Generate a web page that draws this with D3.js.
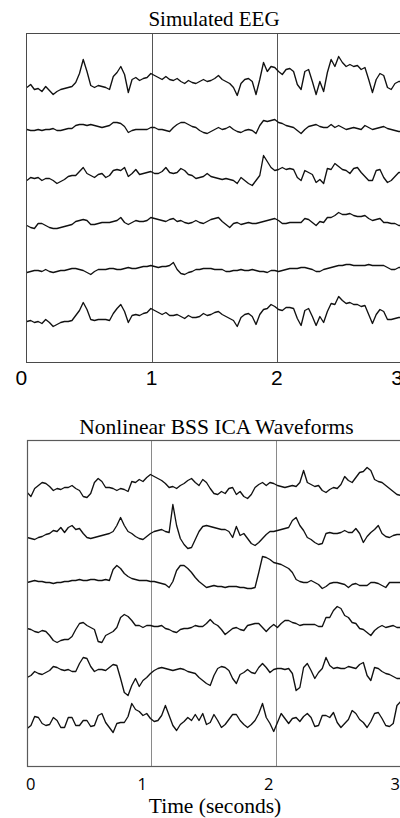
<!DOCTYPE html>
<html>
<head>
<meta charset="utf-8">
<script src="https://cdn.jsdelivr.net/npm/d3@7"></script>
<style>
  html, body { margin: 0; padding: 0; background: #fff; }
  svg { display: block; }
</style>
</head>
<body>
<svg id="chart" width="400" height="818"></svg>
<script>
// Sampling interval of every trace, in seconds (t = 0 … 3 s)
const SAMPLE_STEP = 0.03;
const TIME_TICKS = [0, 1, 2, 3];
const TICK_LABELS = ["0", "1", "2", "3"];

// Simulated EEG channels (amplitude around each channel baseline)
const eegCh1 = [-5,-2,-7,-6,-9,-4,-8,-12,-9,-7, -6,-5,-4,0,9,23,11,-3,-5,-3, -4,-5,-7,6,10,16,8,-10,3,5,
  2,4,5,9,7,5,3,6,3,2, 4,1,-1,2,0,-1,1,3,1,2, 4,7,3,1,-1,-5,-13,-1,3,4, 1,-12,3,20,11,16,15,11,8,13,
  14,11,-2,-7,11,13,1,-12,1,-9, 10,23,16,26,20,16,18,16,17,13, 15,3,-10,3,9,7,-5,-7,-1,1,1];
const eegCh2 = [-1,-2,-2,-1,-2,-1,-1,0,-2,-2, -1,0,0,3,4,4,3,4,3,2, 1,2,3,6,6,5,2,-4,-2,-1,
  -1,-1,-1,1,1,-1,-1,-2,-3,1, 4,6,6,4,2,1,-2,-4,-5,-3, -1,1,-1,0,2,-1,-3,-4,-2,-1, -2,-5,3,8,7,8,9,6,5,3,
  2,1,-2,-5,-1,2,3,4,2,1, 1,4,1,3,1,-1,0,1,0,-1, 3,1,-1,0,1,2,0,-1,-2,-3,-3];
const eegCh3 = [-5,-2,-3,-2,-5,-3,-3,-5,-8,-6, -4,-1,0,0,4,8,2,0,-2,1, 2,-2,0,5,6,5,8,-1,2,6,
  1,2,3,4,2,2,4,8,3,2, 3,7,5,1,0,-3,-2,-1,2,-1, -2,-3,-4,-3,-4,-5,-8,-2,-5,-8, -10,-5,0,20,14,8,5,6,8,6,
  7,6,-2,-5,5,3,1,-7,-4,-8, 7,6,12,9,6,5,2,7,8,3, -1,-5,-5,5,6,-2,-7,-5,-1,3,3];
const eegCh4 = [-3,-5,-6,-1,-1,-3,-5,-6,-6,-5, -4,-3,-2,1,2,3,2,-2,-2,-1, 0,0,0,1,2,5,0,-2,0,2,
  1,1,2,5,4,3,2,1,3,4, 1,2,0,-1,0,2,0,-1,1,3, 4,5,1,-2,-5,-1,0,-2,-1,0, -1,-1,0,1,2,3,4,2,-1,-1,
  0,0,0,0,4,3,0,-3,1,0, 5,5,7,10,8,8,9,7,6,6, 7,4,2,3,4,0,0,-1,-1,-3,-3];
const eegCh5 = [-4,-3,-2,-2,-3,-1,-3,-4,-3,-2, -2,-1,0,0,-1,-2,-4,-6,-3,-1, -1,-1,0,0,-1,-1,0,1,0,0,
  1,2,2,3,2,1,2,2,3,6, -1,-5,-6,-4,-3,-1,-1,0,0,0, -1,-1,-1,-3,-3,-2,-2,-1,-2,-2, -1,-2,-3,-3,-4,-2,-2,-3,-2,-1,
  0,0,0,1,1,0,-1,-3,-3,-1, 0,1,2,3,3,4,4,3,3,3, 3,4,3,3,3,3,1,-1,-1,1,1];
const eegCh6 = [-5,-4,-6,-5,-7,-3,-6,-10,-8,-6, -5,-5,-4,1,6,14,7,-3,-4,-3, -3,-3,-4,3,8,12,5,-6,1,2,
  1,3,4,8,6,4,2,4,1,1, 2,0,-2,1,-1,-1,0,3,1,2, 4,5,2,0,-2,-4,-10,-1,2,3, 0,-8,2,7,8,12,10,7,6,9,
  9,8,-2,-9,6,8,0,-9,0,-6, 5,13,12,20,16,13,14,12,12,10, 11,2,-7,2,7,5,-3,-3,-2,-1,-1];

// Separated source waveforms
const icaCh1 = [-6,-10,-2,1,4,3,0,-4,-2,-3, -1,-1,1,-2,-4,-10,-11,-7,4,8, 5,-1,-1,-2,-4,-2,-3,-5,5,4,
  7,5,9,12,10,8,6,3,-1,0, -2,1,3,6,8,4,1,7,4,-2, -7,-8,-5,-7,-2,-1,-8,-5,-10,-12, -8,-1,2,4,1,4,3,1,0,-1,
  0,1,0,4,16,4,2,0,1,-4, -6,-3,-1,-2,2,10,6,4,9,14, 15,19,16,7,5,4,1,-2,-5,-8,-9];
const icaCh2 = [-4,-5,-6,-4,-3,-1,0,3,2,6, 1,6,8,4,5,0,-4,-5,-4,-3, -2,-1,0,2,8,16,8,2,0,-3,
  -5,-6,-3,0,2,3,4,2,1,29, 8,-5,-11,-15,-14,-6,2,7,8,7, 6,5,4,4,2,-4,7,-2,0,-5, -10,-12,-9,-5,-1,2,2,3,4,5,
  6,13,16,8,3,-4,-6,-9,-11,-10, 0,1,0,0,1,3,1,1,5,0, -9,-3,1,4,8,0,-3,-4,-2,-1,-1];
const icaCh3 = [-2,-1,0,-1,-1,-2,-2,-3,-2,-2, -1,-1,0,0,1,0,0,1,1,0, 0,1,0,11,15,12,7,4,2,1,
  0,0,0,-1,-1,-2,-3,-4,-7,-1, 10,15,15,12,8,3,-1,-4,-7,-6, -5,-6,-6,-7,-6,-6,-6,-7,-7,-8, -8,-7,8,24,23,21,18,17,16,14,
  12,8,1,-1,-2,-2,0,-2,-4,-8, -6,-3,-2,-2,-3,-4,-7,-4,-3,-5, -5,-5,-2,-2,-3,-5,-7,-2,-2,-2,-2];
const icaCh4 = [0,-1,-3,-4,-2,-3,-7,-12,-14,-12, -11,-11,-8,-1,5,6,3,1,-1,-13, -14,-7,-5,-3,1,11,14,12,8,3,
  3,1,3,3,2,2,3,0,-1,-3, -4,-1,0,0,1,3,2,2,5,9, 5,3,-1,-6,-3,0,1,-1,-2,3, 4,5,5,1,-3,1,4,1,5,8,
  8,6,5,3,4,4,4,4,2,2, 11,11,18,22,20,13,11,6,5,0, -1,-4,-7,-2,1,3,1,2,3,1,1];
const icaCh5 = [-5,-3,1,-1,-2,0,2,6,5,3, 2,3,1,1,9,15,14,6,1,3, 3,2,5,8,7,-6,-20,-23,-13,-6,
  -14,-8,-5,-1,2,4,5,4,3,2, 3,4,3,1,0,-1,-5,-8,-11,-13, -3,4,6,5,2,-6,-11,-2,0,3, 0,-1,5,9,5,0,3,4,4,3,
  4,-1,-18,-15,5,9,2,-6,0,4, 15,7,4,5,4,4,6,5,4,8, 10,-3,-8,5,4,1,-1,-2,-4,-6,-6];
const icaCh6 = [-9,-6,3,2,-4,-6,-5,2,-1,-8, -8,2,2,-6,-6,-1,-1,-7,-6,4, 6,-3,-8,-13,-4,-3,-3,3,16,10,
  8,4,6,1,-2,-1,4,14,4,-6, -11,-5,-2,2,-1,5,-1,6,-5,-3, 5,-1,-8,-5,0,5,5,-1,-5,-8, -5,-1,6,16,2,-4,-12,-3,6,1,
  -4,1,2,-2,3,6,2,-7,-6,4, 4,2,7,-3,-8,-4,0,9,6,0, -3,-8,-2,6,7,1,-6,-7,-4,14,18];

// Channel baselines, in the same amplitude units, measured up from the bottom of each panel
const eegOffsets = [280, 234, 187, 140, 94, 46];
const icaOffsets = [280, 233, 186, 138, 94, 47];

const svg = d3.select("#chart");

const panels = [
  {
    title: "Simulated EEG", titleX: 214, titleY: 26, titleSize: 21,
    channels: [eegCh1, eegCh2, eegCh3, eegCh4, eegCh5, eegCh6], offsets: eegOffsets,
    xRange: [26.9, 402.5], top: 33.5, bottom: 362.5,
    frameColor: "#4a4a4a", frameWidth: 1, gridColor: "#555",
    tickFont: "'Liberation Sans', Arial, sans-serif", tickSize: 21, tickBaseline: 385,
    labelNudge: [-6, -1, -1, -6]
  },
  {
    title: "Nonlinear BSS ICA Waveforms", titleX: 216.5, titleY: 434, titleSize: 21.5,
    channels: [icaCh1, icaCh2, icaCh3, icaCh4, icaCh5, icaCh6], offsets: icaOffsets,
    xRange: [27.2, 400.7], top: 440.5, bottom: 766.5,
    frameColor: "#5a5a5a", frameWidth: 1.2, gridColor: "#8a8a8a",
    tickFont: "'Open Sans', 'Noto Sans', sans-serif", tickSize: 16.5, tickBaseline: 790,
    labelNudge: [3, -10, -8, -6]
  }
];

const snap = v => Math.floor(v) + 0.5;

panels.forEach((p, pi) => {
  const x = d3.scaleLinear().domain([0, 3]).range(p.xRange);
  const y = d3.scaleLinear().domain([0, p.bottom - p.top]).range([p.bottom, p.top]);
  const g = svg.append("g");

  // Title
  g.append("text")
    .attr("x", p.titleX).attr("y", p.titleY)
    .attr("text-anchor", "middle")
    .style("font-family", "'Liberation Serif', 'Times New Roman', serif")
    .style("font-size", p.titleSize + "px")
    .attr("fill", "#000")
    .text(p.title);

  // Clip region for the traces
  const clipId = "plot-clip-" + pi;
  svg.append("defs").append("clipPath").attr("id", clipId)
    .append("rect")
    .attr("x", x(0)).attr("y", p.top)
    .attr("width", x(3) - x(0)).attr("height", p.bottom - p.top);

  // Vertical gridlines at the interior whole seconds
  g.selectAll("line.grid")
    .data(TIME_TICKS.filter(t => t > 0 && t < 3))
    .join("line")
    .attr("class", "grid")
    .attr("x1", t => snap(x(t))).attr("x2", t => snap(x(t)))
    .attr("y1", p.top).attr("y2", p.bottom)
    .attr("stroke", p.gridColor)
    .attr("stroke-width", 1);

  // Traces
  const line = d3.line()
    .x((d, i) => x(i * SAMPLE_STEP))
    .y(d => y(d));

  g.append("g").attr("clip-path", `url(#${clipId})`)
    .selectAll("path.trace")
    .data(p.channels.map((ch, ci) => ch.map(v => v + p.offsets[ci])))
    .join("path")
    .attr("class", "trace")
    .attr("d", line)
    .attr("fill", "none")
    .attr("stroke", "#111")
    .attr("stroke-width", 1.35)
    .attr("stroke-linejoin", "round");

  // Plot frame
  g.append("rect")
    .attr("x", snap(x(0))).attr("y", p.top)
    .attr("width", x(3) - snap(x(0))).attr("height", p.bottom - p.top)
    .attr("fill", "none")
    .attr("stroke", p.frameColor)
    .attr("stroke-width", p.frameWidth);

  // Time axis labels
  const axis = d3.axisBottom(x)
    .tickValues(TIME_TICKS)
    .tickFormat((d, i) => TICK_LABELS[i])
    .tickSize(0);
  const ax = g.append("g")
    .attr("transform", `translate(0,${p.bottom})`)
    .call(axis);
  ax.select(".domain").remove();
  ax.attr("font-family", null).attr("font-size", null);
  ax.selectAll(".tick text")
    .attr("dy", null)
    .attr("y", p.tickBaseline - p.bottom)
    .attr("x", (d, i) => p.labelNudge[i])
    .attr("fill", "#000")
    .style("font-family", p.tickFont)
    .style("font-size", p.tickSize + "px");
});

// X-axis title under the second panel
svg.append("text")
  .attr("x", 215).attr("y", 813)
  .attr("text-anchor", "middle")
  .style("font-family", "'Liberation Serif', 'Times New Roman', serif")
  .style("font-size", "21.5px")
  .attr("fill", "#000")
  .text("Time (seconds)");
</script>
</body>
</html>
